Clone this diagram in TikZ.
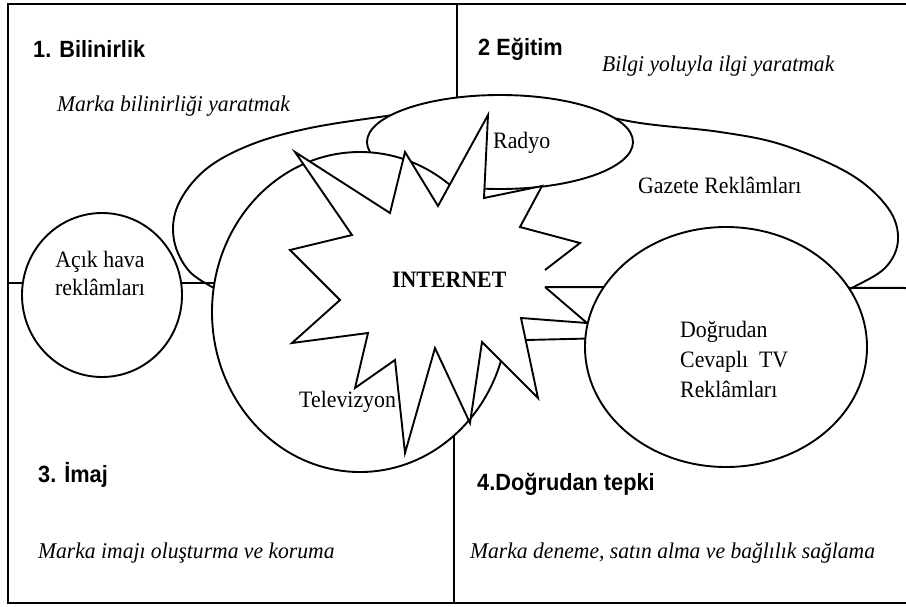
\documentclass[tikz,border=0pt]{standalone}
\usepackage{fontspec}
\setmainfont{Liberation Serif}[FakeStretch=0.93]
\newfontfamily\aimfont{Liberation Serif}[FakeStretch=0.96]
\newfontfamily\hsans{Liberation Sans}[FakeStretch=0.925]
\usetikzlibrary{shapes.geometric}
\begin{document}
\begin{tikzpicture}[x=1pt,y=-1pt,
  outline/.style={line width=1.9pt, line join=miter},
  frameline/.style={line width=2pt},
  blob/.style={ellipse, draw, fill=white, line width=1.9pt, inner sep=0pt},
  head/.style={anchor=base west, inner sep=0pt, font=\hsans\bfseries\fontsize{23.5}{28}\selectfont},
  aim/.style={anchor=base west, inner sep=0pt, font=\aimfont\itshape\fontsize{22.5}{27}\selectfont},
  label/.style={anchor=base west, inner sep=0pt, font=\fontsize{23.5}{28}\selectfont}]
\useasboundingbox (0,0) rectangle (906,606);

% frame and quadrant dividers
\coordinate (tl) at (8,4);
\coordinate (tr) at (906,4);
\coordinate (bl) at (8,603);
\coordinate (br) at (906,603);
\draw[frameline] (tr) -- (tl) -- (bl) -- (br);
\coordinate (vtop) at (457,4);
\coordinate (vtopend) at (457,110);
\coordinate (vbot) at (454,603);
\coordinate (vbotend) at (454,420);
\draw[frameline] (vtop) -- (vtopend);
\draw[frameline] (vbot) -- (vbotend);
\coordinate (hl) at (8,283);
\coordinate (hlend) at (220,283);
\draw[frameline] (hl) -- (hlend);

% newspaper advertising loop
\draw[outline] plot[smooth, tension=0.6] coordinates {
  (222,292) (190,272) (174,240) (178,205) (205,170) (250,145) (310,128)
  (393,115) (470,104) (560,108) (640,123) (720,132) (783,145) (850,174)
  (888,208) (898,240) (885,268) (850,289) (825,302)};

% radio
\node[blob, minimum width=266pt, minimum height=94pt] (radyo) at (500,142) {};

% television
\node[blob, minimum width=296pt, minimum height=320pt] (tv) at (360,312) {};

% internet burst
\fill[white] (295,152) -- (390,213) -- (405,152) -- (438,206) -- (488,115)
  -- (484,198) -- (542,186) -- (520,227) -- (580,243) -- (545,270)
  -- (545,287) -- (587,323) -- (521,318) -- (538,398) -- (482,342)
  -- (470,423) -- (435,348) -- (405,453) -- (395,360) -- (355,388)
  -- (368,333) -- (292,343) -- (340,300) -- (290,250) -- (352,235) -- cycle;
\coordinate (burstE) at (545,287);
\coordinate (burstSE) at (526,340);
\draw[outline] (burstE) -- (587,323) -- (521,318) -- (538,398) -- (482,342)
  -- (470,423) -- (435,348) -- (405,453) -- (395,360) -- (355,388)
  -- (368,333) -- (292,343) -- (340,300) -- (290,250) -- (352,235)
  -- (295,152) -- (390,213) -- (405,152) -- (438,206) -- (488,115)
  -- (484,198) -- (542,186) -- (520,227) -- (580,243) -- (545,270);

% right divider and link into the direct response ellipse
\coordinate (hr) at (906,288);
\draw[frameline] (burstE) -- (hr);
\coordinate (linkend) at (610,338);
\draw[outline] (burstSE) -- (linkend);

% direct response TV
\node[blob, minimum width=282pt, minimum height=240pt] (dr) at (726,347) {};

% outdoor advertising
\node[blob, minimum width=160pt, minimum height=164pt] (acik) at (102,295) {};

% texts
\node[head] (h1) at (33,57) {1. Bilinirlik};
\node[aim] (a1) at (57,111) {Marka bilinirliği yaratmak};
\node[head] (h2) at (478,55) {2 Eğitim};
\node[aim] (a2) at (602,71) {Bilgi yoluyla ilgi yaratmak};
\node[head] (h3) at (38,482) {3. İmaj};
\node[aim] (a3) at (38,558) {Marka imajı oluşturma ve koruma};
\node[head] (h4) at (477,490) {4.Doğrudan tepki};
\node[aim] (a4) at (470,558) {Marka deneme, satın alma ve bağlılık sağlama};

\node[label] (tradyo) at (493,148) {Radyo};
\node[label] (tgazete) at (638,193) {Gazete Reklâmları};
\node[label, anchor=base] (tacik1) at (100,267) {Açık hava};
\node[label, anchor=base] (tacik2) at (100,295) {reklâmları};
\node[anchor=base west, inner sep=0pt, font=\bfseries\fontsize{23.5}{28}\selectfont] (tnet) at (392,287) {INTERNET};
\node[label] (ttv) at (299,407) {Televizyon};
\node[label] (tdr1) at (680,337) {Doğrudan};
\node[label] (tdr2) at (680,367) {Cevaplı\ \ TV};
\node[label] (tdr3) at (680,397) {Reklâmları};
\end{tikzpicture}
\end{document}
